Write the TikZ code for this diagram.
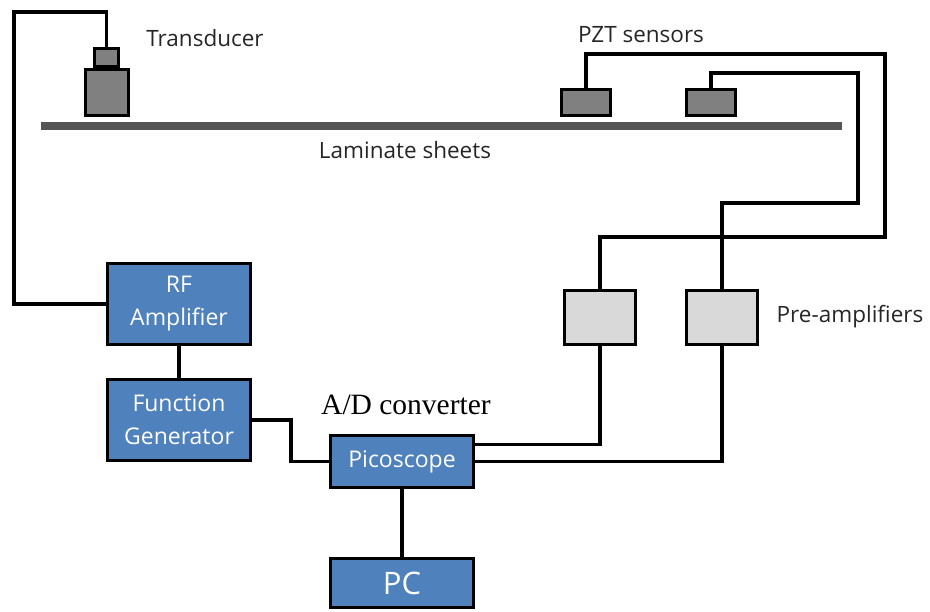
\documentclass[tikz,border=0pt]{standalone}
\usepackage{fontspec}
\setmainfont{Open Sans}
\newfontfamily\serifont{Liberation Serif}
\usetikzlibrary{positioning}
\definecolor{boxblue}{RGB}{79,129,189}
\definecolor{ampgray}{RGB}{217,217,217}
\definecolor{pztgray}{RGB}{128,128,128}
\definecolor{sheetgray}{RGB}{85,85,85}

\begin{document}
\begin{tikzpicture}[x=1pt,y=-1pt,
    box/.style={draw,line width=3pt,fill=boxblue,text=white,minimum width=143pt,
      inner sep=0pt,align=center,font=\fontsize{23}{33}\selectfont},
    amp/.style={draw,line width=3pt,fill=ampgray,minimum width=71pt,minimum height=54pt},
    pzt/.style={draw,line width=3pt,fill=pztgray,minimum width=49pt,minimum height=26pt,inner sep=0pt},
    lbl/.style={text=black!85,font=\fontsize{22.5}{26}\selectfont},
    wire/.style={line width=3.6pt}]
          \useasboundingbox (0,0) rectangle (930,612);
          \node (sheet) [fill=sheetgray,minimum width=801pt,minimum height=8pt,inner sep=0pt] at (441.5,126) {};
          \node (tbody) [pzt,minimum width=43pt,minimum height=46pt] at (107,93) {};
          \node (thead) [pzt,minimum width=24pt,minimum height=18pt] at (106.5,58) {};
          \node (s1) [pzt] at (586,102.5) {};
          \node (s2) [pzt,right=73pt of s1] {};
          \node (pre1) [amp] at (600,317.5) {};
          \node (pre2) [amp,right=48pt of pre1] {};
          \node (rf) [box,minimum height=81pt] at (179,304) {RF\\Amplifier};
          \node (fg) [box,minimum height=81pt,below=32pt of rf] {Function\\Generator};
          \node (pico) [box,minimum height=52pt] at (402,461.5) {Picoscope};
          \node (pc) [box,minimum height=49pt,below=68pt of pico,font=\fontsize{31}{34}\selectfont] {PC};

          \node (tlabel) [lbl] at (205,38) {Transducer};
          \node (slabel) [lbl] at (641,35) {PZT sensors};
          \node (llabel) [lbl] at (405,150) {Laminate sheets};
          \node (alabel) [lbl] at (850,317) {Pre-amplifiers};
          \node (dlabel) [font=\serifont\fontsize{29.5}{32}\selectfont] at (406,405) {A/D converter};

          \coordinate (tc) at (14,12);
          \coordinate (oc) at (885,54);
          \coordinate (ic) at (858,73);

          \draw[wire] (thead.north) |- (tc) |- (rf.west);
          \draw[wire] (rf) -- (fg);
          \draw[wire] (fg.east) -- ++(39,0) |- (pico.west);
          \draw[wire] (pico) -- (pc);
          \draw[wire] ([yshift=17pt]pico.east) -| (pre1.south);
          \draw[wire] (pico.east) -| (pre2.south);
          \draw[wire] (pre1.north) -- ++(0,-52) -| (oc) -| (s1.north);
          \draw[wire] (pre2.north) -- ++(0,-86) -| (ic) -| (s2.north);
\end{tikzpicture}
\end{document}
